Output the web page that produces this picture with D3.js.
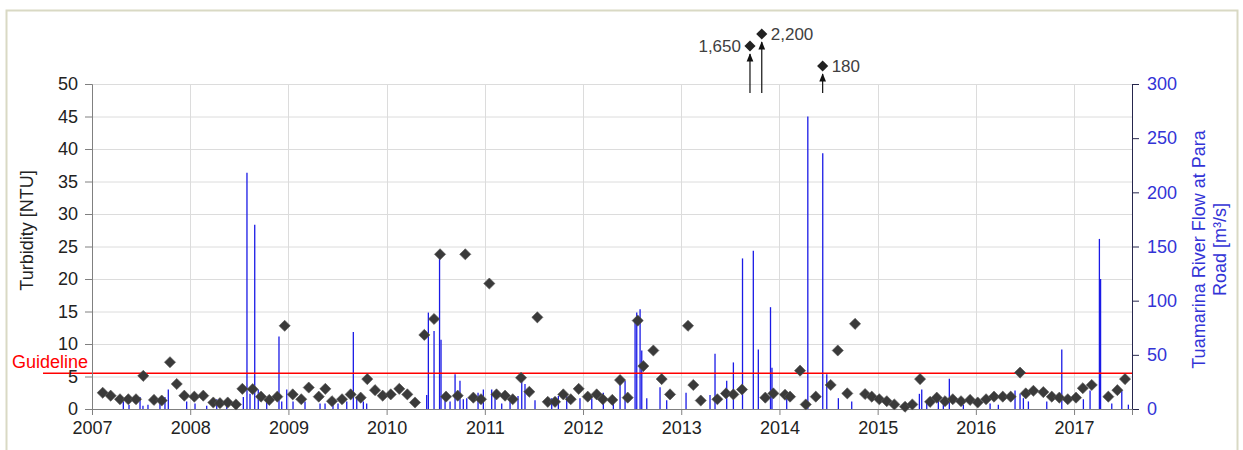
<!DOCTYPE html>
<html>
<head>
<meta charset="utf-8">
<script src="https://cdn.jsdelivr.net/npm/d3@7"></script>
<style>
  body { margin: 0; background: #fff; }
  svg { display: block; font-family: "Liberation Sans", Arial, sans-serif; }
</style>
</head>
<body>
<svg id="chart" width="1243" height="450"></svg>
<script>
// ---------------- DATA ----------------
const yearTicks = [2007, 2008, 2009, 2010, 2011, 2012, 2013, 2014, 2015, 2016, 2017];
const turbTicks = [0, 5, 10, 15, 20, 25, 30, 35, 40, 45, 50];
const flowTicks = [0, 50, 100, 150, 200, 250, 300];
const guideline = 5.5;

// Turbidity samples (decimal year, NTU)
const turbDates = [
  2007.109, 2007.190, 2007.285, 2007.370, 2007.448, 2007.522, 2007.631, 2007.710, 2007.794, 2007.863,
  2007.940, 2008.042, 2008.133, 2008.235, 2008.303, 2008.382, 2008.466, 2008.531, 2008.636, 2008.721,
  2008.805, 2008.887, 2008.962, 2009.044, 2009.131, 2009.207, 2009.309, 2009.376, 2009.444, 2009.546,
  2009.634, 2009.736, 2009.803, 2009.882, 2009.960, 2010.042, 2010.129, 2010.211, 2010.289, 2010.384,
  2010.483, 2010.544, 2010.605, 2010.724, 2010.801, 2010.883, 2010.961, 2011.046, 2011.119, 2011.206,
  2011.284, 2011.369, 2011.453, 2011.535, 2011.641, 2011.715, 2011.799, 2011.875, 2011.956, 2012.048,
  2012.139, 2012.201, 2012.298, 2012.377, 2012.455, 2012.557, 2012.614, 2012.716, 2012.801, 2012.886,
  2013.069, 2013.123, 2013.199, 2013.368, 2013.456, 2013.531, 2013.619, 2013.856, 2013.938, 2014.057,
  2014.108, 2014.210, 2014.268, 2014.370, 2014.522, 2014.594, 2014.691, 2014.770, 2014.872, 2014.940,
  2015.017, 2015.093, 2015.170, 2015.279, 2015.353, 2015.432, 2015.534, 2015.602, 2015.686, 2015.765,
  2015.849, 2015.941, 2016.019, 2016.104, 2016.185, 2016.274, 2016.355, 2016.450, 2016.508, 2016.586,
  2016.687, 2016.773, 2016.850, 2016.936, 2017.020, 2017.089, 2017.180, 2017.349, 2017.441, 2017.519
];
const turbValues = [
  2.5, 2.05, 1.5, 1.5, 1.5, 5.1, 1.4, 1.3, 7.2, 3.85,
  2.05, 1.9, 2.05, 1.0, 0.9, 1.0, 0.7, 3.1, 3.05, 1.9,
  1.4, 1.9, 12.8, 2.25, 1.5, 3.3, 1.9, 3.1, 1.2, 1.5,
  2.25, 1.75, 4.6, 2.9, 2.05, 2.25, 3.1, 2.25, 1.0, 11.4,
  13.85, 23.8, 1.9, 2.05, 23.8, 1.75, 1.5, 19.3, 2.25, 2.05,
  1.5, 4.8, 2.65, 14.1, 1.1, 1.1, 2.25, 1.5, 3.1, 1.9,
  2.25, 1.5, 1.4, 4.45, 1.75, 13.6, 6.6, 9.0, 4.6, 2.25,
  12.8, 3.7, 1.3, 1.5, 2.4, 2.25, 3.0, 1.75, 2.4, 2.2,
  1.9, 5.9, 0.7, 1.9, 3.7, 9.0, 2.4, 13.1, 2.3, 1.9,
  1.5, 1.2, 0.7, 0.35, 0.7, 4.6, 1.1, 1.75, 1.2, 1.5,
  1.2, 1.4, 1.0, 1.5, 1.9, 1.9, 1.9, 5.6, 2.4, 2.8,
  2.6, 1.9, 1.75, 1.5, 1.75, 3.2, 3.7, 1.9, 2.9, 4.6
];

// Off-scale turbidity results (decimal year, NTU, label)
const outDates = [2013.70, 2013.82, 2014.44];
const outValues = [1650, 2200, 180];
const outLabels = ["1,650", "2,200", "180"];

// River flow peaks (decimal year, m3/s)
const flowDates = [
  2007.319, 2007.377, 2007.489, 2007.519, 2007.570, 2007.692, 2007.743, 2007.777, 2007.964, 2008.049,
  2008.168, 2008.270, 2008.372, 2008.474, 2008.541, 2008.578, 2008.609, 2008.657, 2008.693, 2008.779,
  2008.904, 2008.932, 2008.983, 2009.047, 2009.169, 2009.322, 2009.373, 2009.454, 2009.505, 2009.594,
  2009.661, 2009.696, 2009.763, 2009.797, 2010.408, 2010.425, 2010.483, 2010.539, 2010.554, 2010.595,
  2010.646, 2010.697, 2010.747, 2010.781, 2010.816, 2010.931, 2010.985, 2011.070, 2011.104, 2011.172,
  2011.257, 2011.338, 2011.376, 2011.409, 2011.511, 2011.681, 2011.749, 2011.834, 2011.969, 2012.089,
  2012.207, 2012.309, 2012.377, 2012.428, 2012.530, 2012.547, 2012.581, 2012.598, 2012.649, 2012.784,
  2012.852, 2013.049, 2013.293, 2013.344, 2013.463, 2013.531, 2013.624, 2013.734, 2013.785, 2013.909,
  2013.924, 2014.074, 2014.289, 2014.441, 2014.482, 2014.600, 2014.736, 2015.425, 2015.449, 2015.500,
  2015.618, 2015.669, 2015.730, 2015.873, 2016.145, 2016.229, 2016.399, 2016.450, 2016.484, 2016.535,
  2016.722, 2016.875, 2017.095, 2017.163, 2017.258, 2017.270, 2017.384, 2017.486, 2017.553
];
const flowValues = [
  7, 4, 11, 3, 4, 7, 11, 18, 7, 5,
  3, 9, 9, 5, 11, 218, 14, 170, 18, 7,
  67, 7, 18, 7, 7, 5, 5, 7, 5, 7,
  71, 11, 7, 5, 13, 89, 72, 141, 64, 9,
  7, 32, 26, 9, 10, 15, 18, 18, 12, 5,
  10, 12, 30, 23, 8, 10, 12, 12, 10, 10,
  15, 12, 24, 26, 81, 89, 92, 54, 10, 20,
  8, 15, 13, 51, 26, 43, 139, 146, 55, 94,
  38, 10, 270, 236, 32, 10, 7, 14, 18, 7,
  10, 7, 28, 4, 5, 4, 17, 14, 10, 7,
  7, 55, 9, 17, 157, 120, 5, 17, 4
];

// ---------------- LAYOUT ----------------
const svg = d3.select("#chart");
const L = 92, R = 1132, T = 84, B = 409;
const FONT = 18;

const x = d3.scaleLinear().domain([2007, 2017.59]).range([L, R]);
const yL = d3.scaleLinear().domain([0, 50]).range([B, T]);
const yR = d3.scaleLinear().domain([0, 300]).range([B, T]);
// vertical placement for off-scale points above the plot (piecewise)
const yOut = d3.scaleLinear().domain([180, 1650, 2200]).range([66, 46, 34]);

// outer frame
svg.append("rect").attr("x", 6.5).attr("y", 10.5).attr("width", 1231).attr("height", 450)
  .attr("fill", "none").attr("stroke", "#d9d9c4").attr("stroke-width", 2);

// gridlines
const grid = svg.append("g");
grid.selectAll("line.h").data(turbTicks.filter(d => d > 0)).join("line")
  .attr("x1", L).attr("x2", R)
  .attr("y1", d => yL(d) + 0.5).attr("y2", d => yL(d) + 0.5)
  .attr("stroke", "#dcdcdc").attr("stroke-width", 1);
grid.selectAll("line.v").data(yearTicks.filter(d => d > 2007)).join("line")
  .attr("y1", T).attr("y2", B)
  .attr("x1", d => Math.round(x(d)) + 0.5).attr("x2", d => Math.round(x(d)) + 0.5)
  .attr("stroke", "#dcdcdc").attr("stroke-width", 1);

// flow spikes
svg.append("g").selectAll("line").data(flowDates).join("line")
  .attr("x1", d => x(d)).attr("x2", d => x(d))
  .attr("y1", yR(0)).attr("y2", (d, i) => yR(flowValues[i]))
  .attr("stroke", "#1a1ae6").attr("stroke-width", 1.3);

// guideline
svg.append("line").attr("x1", 43).attr("x2", R)
  .attr("y1", yL(guideline)).attr("y2", yL(guideline))
  .attr("stroke", "#ff0000").attr("stroke-width", 1.3);
svg.append("text").attr("x", 12).attr("y", yL(guideline) - 5)
  .attr("fill", "#ff0000").attr("font-size", FONT).text("Guideline");

// axes
const axL = svg.append("g").attr("transform", `translate(${L},0)`)
  .call(d3.axisLeft(yL).tickValues(turbTicks).tickSize(7).tickPadding(7));
axL.select(".domain").attr("stroke", "#808080");
axL.selectAll(".tick line").attr("stroke", "#808080");
axL.selectAll("text").attr("font-size", FONT).attr("font-family", "Liberation Sans, Arial, sans-serif").attr("fill", "#222");

const axR = svg.append("g").attr("transform", `translate(${R},0)`)
  .call(d3.axisRight(yR).tickValues(flowTicks).tickSize(7).tickPadding(8));
axR.select(".domain").attr("stroke", "#26264d");
axR.selectAll(".tick line").attr("stroke", "#26264d");
axR.selectAll("text").attr("font-size", FONT).attr("font-family", "Liberation Sans, Arial, sans-serif").attr("fill", "#3333d6");

const axB = svg.append("g").attr("transform", `translate(0,${B})`)
  .call(d3.axisBottom(x).tickValues(yearTicks).tickFormat(d3.format("d")).tickSize(6).tickPadding(6));
axB.select(".domain").attr("stroke", "#808080");
axB.selectAll(".tick line").attr("stroke", "#808080");
axB.selectAll("text").attr("font-size", FONT).attr("font-family", "Liberation Sans, Arial, sans-serif").attr("fill", "#222");

// axis titles
svg.append("text").attr("transform", `translate(33,${(T + B) / 2 - 16}) rotate(-90)`)
  .attr("text-anchor", "middle").attr("font-size", FONT).attr("fill", "#222")
  .text("Turbidity [NTU]");
const rt = svg.append("text").attr("transform", `translate(1205,${(T + B) / 2 + 3}) rotate(-90)`)
  .attr("text-anchor", "middle").attr("font-size", FONT).attr("fill", "#3333d6");
rt.append("tspan").attr("x", 0).attr("dy", 0).text("Tuamarina River Flow at Para");
rt.append("tspan").attr("x", 0).attr("dy", 21).text("Road [m³/s]");

// diamonds
const diamond = d3.symbol().type(d3.symbolSquare).size(62);
svg.append("g").selectAll("path").data(turbDates).join("path")
  .attr("d", diamond)
  .attr("transform", (d, i) => `translate(${x(d)},${yL(turbValues[i])}) rotate(45)`)
  .attr("fill", "#3a3a3a").attr("stroke", "#555").attr("stroke-width", 0.6);

// off-scale results with arrows
svg.append("defs").append("marker").attr("id", "arrow")
  .attr("viewBox", "0 0 10 10").attr("refX", 9).attr("refY", 5)
  .attr("markerWidth", 7).attr("markerHeight", 7).attr("orient", "auto")
  .append("path").attr("d", "M0,1 L10,5 L0,9 Z").attr("fill", "#111");
const og = svg.append("g");
og.selectAll("line").data(outDates).join("line")
  .attr("x1", d => x(d)).attr("x2", d => x(d))
  .attr("y1", 93).attr("y2", (d, i) => yOut(outValues[i]) + 8)
  .attr("stroke", "#111").attr("stroke-width", 1.2).attr("marker-end", "url(#arrow)");
og.selectAll("path").data(outDates).join("path")
  .attr("d", diamond)
  .attr("transform", (d, i) => `translate(${x(d)},${yOut(outValues[i])}) rotate(45)`)
  .attr("fill", "#222");
og.selectAll("text").data(outDates).join("text")
  .attr("x", (d, i) => i === 0 ? x(d) - 9 : x(d) + 9)
  .attr("y", (d, i) => yOut(outValues[i]) + 6)
  .attr("text-anchor", (d, i) => i === 0 ? "end" : "start")
  .attr("font-size", FONT - 1).attr("fill", "#404040")
  .text((d, i) => outLabels[i]);
</script>
</body>
</html>
